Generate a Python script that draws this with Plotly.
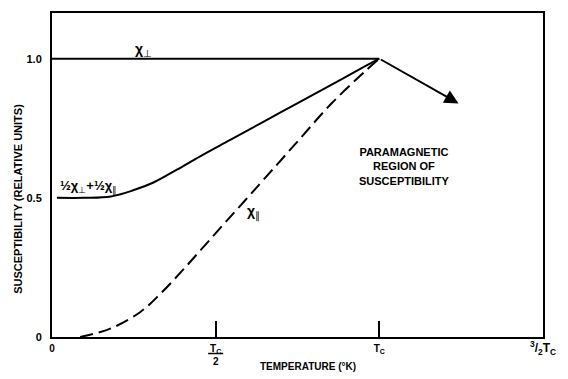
import plotly.graph_objects as go

# ---- data (T in units of Tc, susceptibility in relative units) ----
perp_T = [0.0, 1.0]
perp_chi = [1.0, 1.0]

half_T = [0.015, 0.10, 0.18, 0.248, 0.31, 0.38, 0.454, 0.546, 0.647, 0.752, 0.853, 0.954, 1.0]
half_chi = [0.50, 0.50, 0.505, 0.527, 0.555, 0.600, 0.650, 0.709, 0.774, 0.841, 0.906, 0.971, 1.0]

par_T = [0.086, 0.178, 0.27, 0.331, 0.393, 0.454, 0.515, 0.577, 0.647, 0.752, 0.853, 0.954, 1.0]
par_chi = [0.0, 0.030, 0.090, 0.155, 0.232, 0.312, 0.393, 0.474, 0.566, 0.705, 0.838, 0.952, 1.0]

arrow_start = [1.0, 1.0]
arrow_end = [1.242, 0.839]

x_tickvals = [0, 0.5, 1.0, 1.5]
x_ticktext = ["<b>0</b>", "<b>T<sub>C</sub></b><br><b>2</b>", "<b>T<sub>C</sub></b>",
              "<span style='font-size:12px'><b><sup>3</sup>/<sub>2</sub>T<sub>C</sub></b></span>"]
y_tickvals = [0, 0.5, 1.0]
y_ticktext = ["<b>0</b>", "<b>0.5</b>", "<b>1.0</b>"]

FONT = "Liberation Sans"
INK = "black"

fig = go.Figure()
line_style = dict(color=INK, width=2)
fig.add_trace(go.Scatter(x=perp_T, y=perp_chi, mode="lines", line=line_style))
fig.add_trace(go.Scatter(x=half_T, y=half_chi, mode="lines",
                         line=dict(color=INK, width=2, shape="spline", smoothing=1)))
fig.add_trace(go.Scatter(x=par_T, y=par_chi, mode="lines",
                         line=dict(color=INK, width=2, dash="13px,6px", shape="spline", smoothing=1)))

fig.add_annotation(x=arrow_end[0], y=arrow_end[1], ax=arrow_start[0], ay=arrow_start[1],
                   xref="x", yref="y", axref="x", ayref="y", text="", showarrow=True,
                   arrowhead=2, arrowsize=1.4, arrowwidth=2, arrowcolor=INK, standoff=0)

lab = dict(family=FONT, size=14, color=INK)
fig.add_annotation(x=0.279, y=1.0, yanchor="bottom", text="<b>χ</b><sub>⊥</sub>",
                   showarrow=False, font=lab, xref="x", yref="y", yshift=-2)
fig.add_annotation(x=0.615, y=0.446, text="<b>χ</b><sub>∥</sub>", showarrow=False, font=lab,
                   xref="x", yref="y")
fig.add_annotation(x=0.113, y=0.54, text="<b>½χ</b><sub>⊥</sub><b>+½χ</b><sub>∥</sub>", showarrow=False,
                   font=dict(family=FONT, size=13, color=INK), xref="x", yref="y")
fig.add_annotation(x=1.077, y=0.614, text="<b>PARAMAGNETIC<br>REGION OF<br>SUSCEPTIBILITY</b>",
                   showarrow=False, font=dict(family=FONT, size=11, color=INK), xref="x", yref="y")

# axis titles
fig.add_annotation(x=(308 - 52) / 491, y=-0.092, xref="paper", yref="paper",
                   xanchor="center", yanchor="middle",
                   text="<b>TEMPERATURE (°K)</b>", showarrow=False,
                   font=dict(family=FONT, size=10, color=INK))
fig.add_annotation(x=-(52 - 18) / 491, y=(337 - 198) / 326, xref="paper", yref="paper",
                   xanchor="center", yanchor="middle", textangle=-90,
                   text="<b>SUSCEPTIBILITY (RELATIVE UNITS)</b>", showarrow=False,
                   font=dict(family=FONT, size=11, color=INK))

# fraction bar for Tc/2
fig.add_shape(type="line", x0=0.477, x1=0.523, y0=-0.051, y1=-0.051, xref="x", yref="paper",
              line=dict(color=INK, width=1.5))

fig.update_layout(
    width=568, height=379,
    margin=dict(l=52, r=25, t=11, b=42),
    paper_bgcolor="white", plot_bgcolor="white",
    showlegend=False,
    font=dict(family=FONT, size=11, color=INK),
)
fig.update_xaxes(range=[0, 1.5], tickvals=x_tickvals, ticktext=x_ticktext,
                 ticks="inside", ticklen=16, tickwidth=2, tickcolor=INK,
                 showline=True, linecolor=INK, linewidth=2, mirror=True,
                 showgrid=False, zeroline=False,
                 tickfont=dict(family=FONT, size=10, color=INK), ticklabelstandoff=1)
fig.update_yaxes(range=[0, 1.164], tickvals=y_tickvals, ticktext=y_ticktext,
                 ticks="", showline=True, linecolor=INK, linewidth=2, mirror=True,
                 showgrid=False, zeroline=False,
                 tickfont=dict(family=FONT, size=11, color=INK), ticklabelstandoff=6)

fig.write_html("out.html")
